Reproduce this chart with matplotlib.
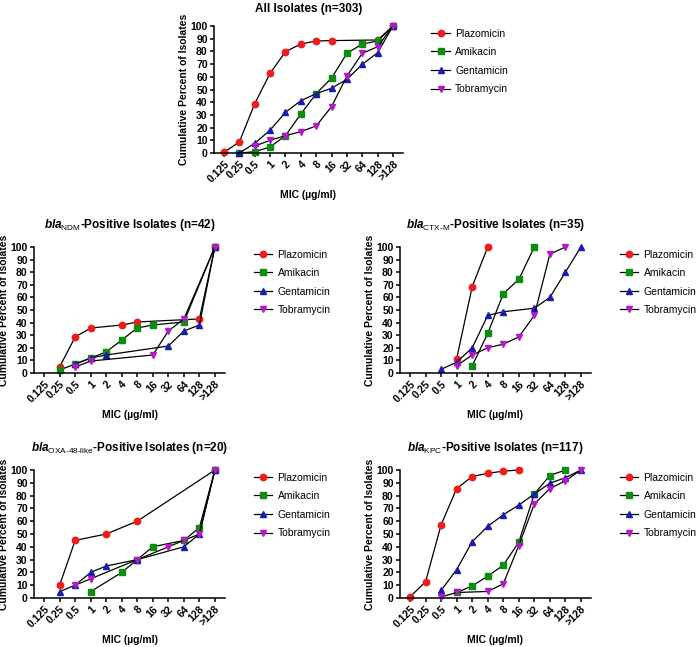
import numpy as np
import matplotlib
matplotlib.use("Agg")
import matplotlib.pyplot as plt

plt.rcParams['font.family'] = ['Liberation Sans', 'DejaVu Sans']
plt.rcParams['mathtext.fontset'] = 'custom'
plt.rcParams['mathtext.it'] = 'Liberation Sans:italic:bold'
plt.rcParams['mathtext.rm'] = 'Liberation Sans'
plt.rcParams['mathtext.bf'] = 'Liberation Sans:bold'

mic_labels = ["0.125", "0.25", "0.5", "1", "2", "4", "8", "16", "32", "64", "128", ">128"]
drugs = ["Plazomicin", "Amikacin", "Gentamicin", "Tobramycin"]

# cumulative percent per MIC category (None = no point)
all_plaz = [0.5, 8.7, 38.8, 62.7, 79.8, 85.8, 88.2, 88.5, None, None, 89, 100]
all_amik = [None, 0, 1, 4.7, 13.6, 30.7, 46.7, 59, 78.5, 85.8, 88.2, 100]
all_gent = [None, 0, 7.6, 18, 32, 41.2, 46.7, 51, 58, 69.8, 79, 100]
all_tobr = [None, None, 5.5, 10, 13.6, 16.8, 21.3, 36.5, 60.6, 78.5, 83.7, 100]

ndm_plaz = [None, 4.8, 28.6, 35.7, None, 38.1, 40.5, None, None, None, 42.9, 100]
ndm_amik = [None, 2.4, 7.1, 11.9, 16.7, 26.2, 35.7, 38.1, None, 40.5, None, 100]
ndm_gent = [None, None, 7.1, 11.9, 14.3, None, None, None, 21.4, 33.3, 38.1, 100]
ndm_tobr = [None, None, 4.8, 9.5, None, None, None, 14.3, 33.3, 42.9, None, 100]

ctx_plaz = [None, None, None, 11.4, 68.6, 100, None, None, None, None, None, None]
ctx_amik = [None, None, None, None, 5.7, 31.4, 62.9, 74.3, 100, None, None, None]
ctx_gent = [None, None, 2.9, 8.6, 20, 45.7, 48.6, None, 51.4, 60, 80, 100]
ctx_tobr = [None, None, None, 5.7, 14.3, 20, 22.9, 28.6, 45.7, 94.3, 100, None]

oxa_plaz = [None, 10, 45, None, 50, None, 60, None, None, None, None, 100]
oxa_amik = [None, None, None, 5, None, 20, 30, 40, None, 45, 55, 100]
oxa_gent = [None, 5, 10, 20, 25, None, 30, None, None, 40, 50, 100]
oxa_tobr = [None, None, 10, 15, None, None, 30, None, 40, 45, 50, 100]

kpc_plaz = [0.9, 12.8, 57.3, 85.5, 94.9, 97.4, 99.1, 100, None, None, None, None]
kpc_amik = [None, None, None, 4.3, 9.4, 17.1, 25.6, 43.6, 81.2, 95.7, 100, None]
kpc_gent = [None, None, 6.0, 22.2, 44.0, 56.0, 65.0, 72.6, 81.2, 89.7, 94.0, 100]
kpc_tobr = [None, None, 0.9, 4.3, None, 5.1, 11.1, 41.0, 73.5, 85.5, 91.5, 100]

panels = [
    ("All Isolates (n=303)", [all_plaz, all_amik, all_gent, all_tobr]),
    (r"$\mathit{bla}_{\mathrm{NDM}}$-Positive Isolates (n=42)", [ndm_plaz, ndm_amik, ndm_gent, ndm_tobr]),
    (r"$\mathit{bla}_{\mathrm{CTX\text{-}M}}$-Positive Isolates (n=35)", [ctx_plaz, ctx_amik, ctx_gent, ctx_tobr]),
    (r"$\mathit{bla}_{\mathrm{OXA\text{-}48\text{-}like}}$-Positive Isolates (n=20)", [oxa_plaz, oxa_amik, oxa_gent, oxa_tobr]),
    (r"$\mathit{bla}_{\mathrm{KPC}}$-Positive Isolates (n=117)", [kpc_plaz, kpc_amik, kpc_gent, kpc_tobr]),
]

colors = ['#EE1C1C', '#0E8C0E', '#1A1AB4', '#B418C8']
markers = ['o', 's', '^', 'v']
msizes = [4.6, 4.4, 4.6, 4.6]

W, H = 696, 647
# axes boxes in pixels: left, top, right, bottom
boxes = [(214, 26, 403, 153), (34, 247, 225, 373), (400, 247, 591, 373),
         (34, 470, 225, 598), (400, 470, 591, 598)]
title_pads = [10, 14, 14, 13.5, 13.5]

fig = plt.figure(figsize=(W / 100, H / 100), dpi=100)

for (title, series), (l, t, r, b), tp in zip(panels, boxes, title_pads):
    ax = fig.add_axes([l / W, 1 - b / H, (r - l) / W, (b - t) / H])
    x_all = np.arange(len(mic_labels))
    for vals, c, m, ms, name in zip(series, colors, markers, msizes, drugs):
        xs = [x for x, v in zip(x_all, vals) if v is not None]
        ys = [v for v in vals if v is not None]
        ax.plot(xs, ys, color='black', lw=0.9, marker=m, ms=ms,
                markerfacecolor=c, markeredgecolor=c, clip_on=False, label=name)
    ax.set_xlim(-0.65, 11.65)
    ax.set_ylim(0, 100)
    ax.set_yticks(range(0, 101, 10))
    ax.set_xticks(x_all)
    ax.set_xticklabels(mic_labels, rotation=45, ha='right', rotation_mode='anchor')
    for s in ['top', 'right']:
        ax.spines[s].set_visible(False)
    for s in ['left', 'bottom']:
        ax.spines[s].set_linewidth(1.1)
    ax.tick_params(width=1.1, length=3, labelsize=7.5, pad=1.5)
    for lab in ax.get_xticklabels() + ax.get_yticklabels():
        lab.set_fontweight('bold')
    ax.set_title(title, fontsize=8.5, fontweight='bold', pad=tp)
    ax.set_ylabel("Cumulative Percent of Isolates", fontsize=7.5, fontweight='bold', labelpad=1)
    ax.set_xlabel("MIC (µg/ml)", fontsize=7.5, fontweight='bold')
    ax.xaxis.set_label_coords(0.5, -0.29)
    ax.legend(loc='upper left', bbox_to_anchor=(1.15, 0.98), frameon=False, fontsize=7.5,
              handlelength=1.8, handletextpad=0.5, labelspacing=0.82, borderpad=0,
              borderaxespad=0)

fig.savefig("out.png", dpi=100)
